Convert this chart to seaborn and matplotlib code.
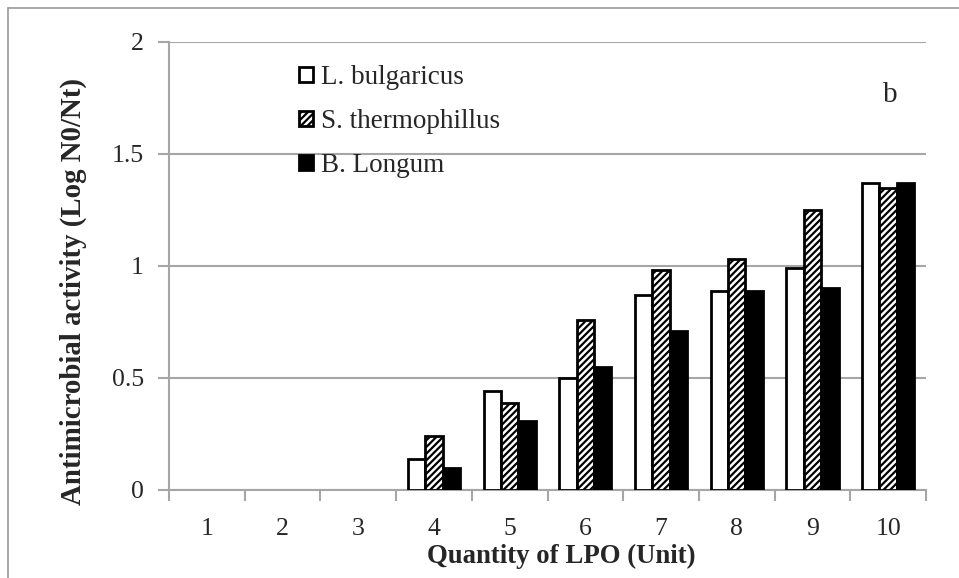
import matplotlib
matplotlib.use("Agg")
import matplotlib.pyplot as plt
import seaborn as sns
import pandas as pd
from matplotlib.patches import Patch
from matplotlib.lines import Line2D

categories = ["1", "2", "3", "4", "5", "6", "7", "8", "9", "10"]
series_names = ["L. bulgaricus", "S. thermophillus", "B. Longum"]
l_bulgaricus = [0, 0, 0, 0.14, 0.44, 0.50, 0.87, 0.89, 0.99, 1.37]
s_thermophillus = [0, 0, 0, 0.24, 0.39, 0.76, 0.98, 1.03, 1.25, 1.35]
b_longum = [0, 0, 0, 0.10, 0.31, 0.55, 0.71, 0.89, 0.90, 1.37]
y_ticks = [0, 0.5, 1, 1.5, 2]
y_tick_labels = ["0", "0.5", "1", "1.5", "2"]

rows = []
for name, vals in zip(series_names, [l_bulgaricus, s_thermophillus, b_longum]):
    for c, v in zip(categories, vals):
        rows.append({"cat": c, "series": name, "value": v})
df = pd.DataFrame(rows)

sns.set_theme(style="white")
plt.rcParams["font.family"] = ["Liberation Serif", "DejaVu Serif"]
plt.rcParams["hatch.linewidth"] = 1.6
plt.rcParams["hatch.color"] = "black"

fig = plt.figure(figsize=(9.59, 5.78), dpi=100)
ax = fig.add_axes([169/959, 1-490/578, (926-169)/959, (490-42)/578])

grey = "#A6A6A6"
sns.barplot(data=df, x="cat", y="value", hue="series", order=categories,
            hue_order=series_names, palette=["white", "white", "black"],
            width=0.69, gap=0, edgecolor="black", linewidth=2, ax=ax,
            legend=False, saturation=1, zorder=3)

for i, cont in enumerate(ax.containers):
    for p in cont.patches:
        if i == 1:
            p.set_hatch("/////")
        if p.get_height() == 0:
            p.set_linewidth(0)

ax.set_ylim(0, 2)
ax.set_xlim(-0.5, 9.5)
ax.set_yticks(y_ticks)
ax.set_yticklabels(y_tick_labels)
ax.yaxis.grid(True, color=grey, linewidth=1.5, zorder=0)
ax.set_axisbelow(True)
for s in ["top", "right"]:
    ax.spines[s].set_visible(False)
for s in ["left", "bottom"]:
    ax.spines[s].set_color(grey)
    ax.spines[s].set_linewidth(1.5)

ax.tick_params(axis="y", direction="out", length=8, width=1.5, color=grey,
               labelsize=18.5, pad=10, left=True)
ax.set_xticks(range(len(categories)))
ax.set_xticklabels(categories, fontsize=18.5)
ax.tick_params(axis="x", length=0, pad=20)
ax.set_xticks([i - 0.5 for i in range(len(categories) + 1)], minor=True)
ax.tick_params(axis="x", which="minor", direction="out", length=8, width=1.5,
               color=grey, bottom=True)

ax.set_xlabel("Quantity of LPO (Unit)", fontsize=19.3, fontweight="bold", labelpad=3)
ax.set_ylabel("Antimicrobial activity (Log N0/Nt)", fontsize=20.8, fontweight="bold",
              labelpad=18)
ax.xaxis.label.set_x(0.5185)
ax.yaxis.label.set_y(0.443)

handles = [
    Patch(facecolor="white", edgecolor="black", linewidth=2),
    Patch(facecolor="white", edgecolor="black", linewidth=2, hatch="/////"),
    Patch(facecolor="black", edgecolor="black", linewidth=2),
]
leg = ax.legend(handles, series_names, loc="upper left",
                bbox_to_anchor=(299/959, 1-65/578), bbox_transform=fig.transFigure,
                frameon=False, fontsize=19.5, handlelength=0.5, handleheight=0.5,
                handletextpad=0.3, labelspacing=0.7, borderpad=0, borderaxespad=0)

ax.text(890/959, 1-95/578, "b", transform=fig.transFigure, fontsize=21,
        ha="center", va="center")

fig.add_artist(Line2D([8/959, 8/959], [0, 1-8/578], transform=fig.transFigure,
                      color="#999999", linewidth=1.2))
fig.add_artist(Line2D([8/959, 1], [1-8/578, 1-8/578], transform=fig.transFigure,
                      color="#999999", linewidth=1.2))

fig.savefig("out.png", dpi=100)
